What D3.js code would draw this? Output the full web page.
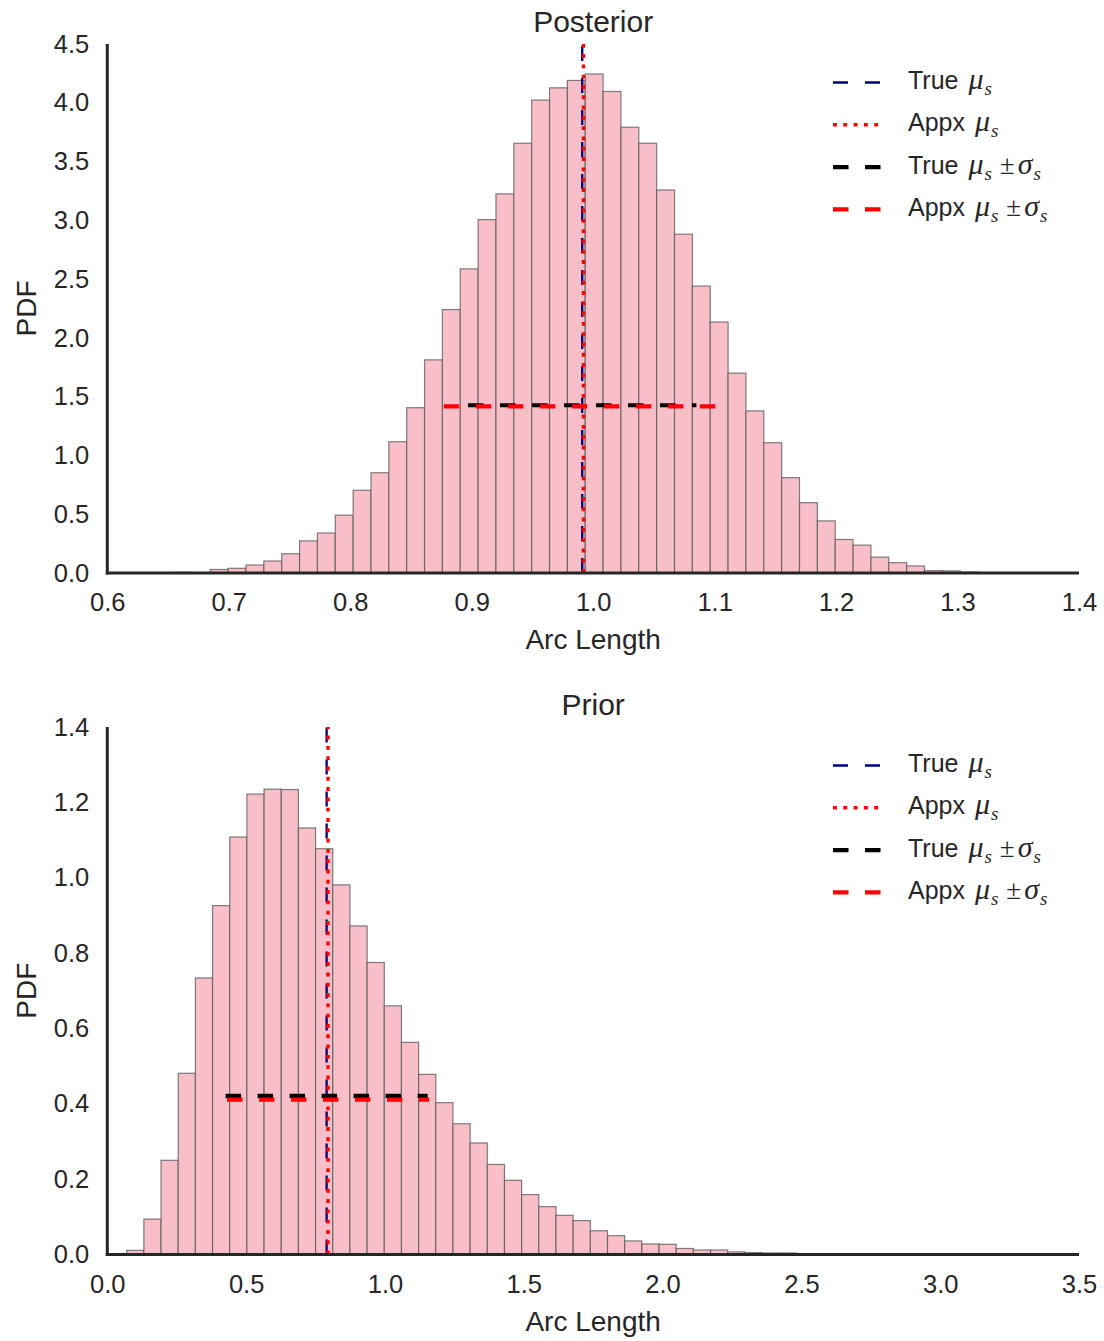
<!DOCTYPE html>
<html>
<head>
<meta charset="utf-8">
<script src="https://cdn.jsdelivr.net/npm/d3@7"></script>
<style>
  html, body { margin: 0; padding: 0; background: #fff; }
  svg { display: block; }
  text { font-family: "Liberation Sans", Arial, sans-serif; fill: #262626; }
</style>
</head>
<body>
<svg id="chart" width="1104" height="1341"></svg>
<script>
// ---------- Posterior: normalised histogram of arc length ----------
const postBinStart = 0.6554;
const postBinWidth = 0.0147;
const postDensity = [
  0.006, 0.002, 0.030, 0.040, 0.068, 0.102, 0.164, 0.273, 0.340, 0.492,
  0.704, 0.853, 1.117, 1.406, 1.813, 2.241, 2.587, 3.006, 3.225, 3.656,
  4.023, 4.127, 4.190, 4.245, 4.096, 3.792, 3.656, 3.258, 2.882, 2.441,
  2.135, 1.700, 1.379, 1.108, 0.811, 0.598, 0.443, 0.285, 0.237, 0.135,
  0.088, 0.060, 0.020, 0.018, 0.008
];
const postTrue = { mu: 0.991, sigma: 0.094, level: 1.427 };
const postAppx = { mu: 0.992, sigma: 0.115, level: 1.418 };
const postXTicks = [0.6, 0.7, 0.8, 0.9, 1.0, 1.1, 1.2, 1.3, 1.4];
const postYTicks = [0.0, 0.5, 1.0, 1.5, 2.0, 2.5, 3.0, 3.5, 4.0, 4.5];

// ---------- Prior: normalised histogram of arc length ----------
const priorBinStart = 0.0699;
const priorBinWidth = 0.06185;
const priorDensity = [
  0.011, 0.094, 0.250, 0.481, 0.734, 0.926, 1.108, 1.222, 1.235, 1.234,
  1.132, 1.077, 0.981, 0.872, 0.775, 0.660, 0.563, 0.478, 0.403, 0.347,
  0.296, 0.239, 0.197, 0.159, 0.127, 0.104, 0.090, 0.063, 0.050, 0.036,
  0.028, 0.027, 0.016, 0.012, 0.012, 0.007, 0.005, 0.004, 0.004
];
const priorTrue = { mu: 0.790, sigma: 0.364, level: 0.421 };
const priorAppx = { mu: 0.795, sigma: 0.364, level: 0.411 };
const priorXTicks = [0.0, 0.5, 1.0, 1.5, 2.0, 2.5, 3.0, 3.5];
const priorYTicks = [0.0, 0.2, 0.4, 0.6, 0.8, 1.0, 1.2, 1.4];

const legendLabels = ["True μ_s", "Appx μ_s", "True μ_s ±σ_s", "Appx μ_s ±σ_s"];

// ---------- styling ----------
const INK = "#262626";
const BAR_FILL = "#f9bfc9";
const BAR_EDGE = "#555555";
const lineStyles = [
  { color: "#000080", width: 2.3, dash: "15,17" },      // true mean
  { color: "#ff0000", width: 3.4, dash: "3.9,6.4" },    // approx mean
  { color: "#000000", width: 4.2, dash: "15.5,16.5" },  // true mean ± sd
  { color: "#ff0000", width: 4.2, dash: "15.5,16.5" }   // approx mean ± sd
];
const SERIF = '"Liberation Serif", "DejaVu Serif", serif';
const TICK_SIZE = 25.5;

const svg = d3.select("#chart");

// Legend label with inline math: Greek letters italic, "_x" as subscript.
function drawLegendLabel(g, str, x, y) {
  const t = g.append("text").attr("x", x).attr("y", y).attr("font-size", 25);
  const re = /([μσ])_(\w)|(±)|([^μσ±]+)/g;
  let m, lowered = 0, afterPm = false;
  const span = () => {
    const s = t.append("tspan");
    if (lowered) { s.attr("dy", -lowered); lowered = 0; }
    return s;
  };
  while ((m = re.exec(str))) {
    if (m[1]) {
      span().attr("font-family", SERIF).attr("font-style", "italic")
        .attr("font-size", 30).attr("dx", afterPm ? 3 : 3).text(m[1]);
      t.append("tspan").attr("font-family", SERIF).attr("font-style", "italic")
        .attr("font-size", 19).attr("dy", 6).attr("dx", 1).text(m[2]);
      lowered = 6;
      afterPm = false;
    } else if (m[3]) {
      span().attr("font-family", SERIF).attr("font-size", 27)
        .attr("dx", 1).text("±");
      afterPm = true;
    } else {
      span().text(m[4]);
    }
  }
}

function drawPanel(cfg) {
  const { left, right, top, bottom } = cfg.box;
  const x = d3.scaleLinear().domain(cfg.xDomain).range([left, right]);
  const y = d3.scaleLinear().domain(cfg.yDomain).range([bottom, top]);
  const g = svg.append("g");

  // histogram bars
  g.append("g").selectAll("rect")
    .data(cfg.density)
    .join("rect")
    .attr("x", (d, i) => x(cfg.binStart + i * cfg.binWidth))
    .attr("width", (d, i) => x(cfg.binStart + (i + 1) * cfg.binWidth) - x(cfg.binStart + i * cfg.binWidth))
    .attr("y", d => y(d))
    .attr("height", d => y(0) - y(d))
    .attr("fill", BAR_FILL)
    .attr("stroke", BAR_EDGE)
    .attr("stroke-opacity", 0.75)
    .attr("stroke-width", 1.2);

  // vertical mean lines, drawn upward from the baseline
  [cfg.trueStats.mu, cfg.appxStats.mu].forEach((mu, k) => {
    const s = lineStyles[k];
    g.append("line")
      .attr("x1", x(mu)).attr("x2", x(mu))
      .attr("y1", y(cfg.yDomain[0])).attr("y2", y(cfg.yDomain[1]))
      .attr("stroke", s.color).attr("stroke-width", s.width)
      .attr("stroke-dasharray", s.dash);
  });

  // horizontal mean ± sd lines
  [cfg.trueStats, cfg.appxStats].forEach((st, k) => {
    const s = lineStyles[k + 2];
    g.append("line")
      .attr("x1", x(st.mu - st.sigma)).attr("x2", x(st.mu + st.sigma))
      .attr("y1", y(st.level)).attr("y2", y(st.level))
      .attr("stroke", s.color).attr("stroke-width", s.width)
      .attr("stroke-dasharray", s.dash);
  });

  // axes (labels only, spines drawn separately)
  const gx = g.append("g").attr("transform", `translate(0,${bottom})`)
    .call(d3.axisBottom(x).tickValues(cfg.xTicks).tickFormat(d3.format(".1f"))
      .tickSize(0).tickPadding(20));
  gx.attr("font-size", TICK_SIZE).attr("font-family", null);
  gx.select(".domain").remove();

  const gy = g.append("g").attr("transform", `translate(${left},0)`)
    .call(d3.axisLeft(y).tickValues(cfg.yTicks).tickFormat(d3.format(".1f"))
      .tickSize(0).tickPadding(18));
  gy.attr("font-size", TICK_SIZE).attr("font-family", null);
  gy.select(".domain").remove();

  // spines
  g.append("line").attr("x1", left).attr("x2", left)
    .attr("y1", top).attr("y2", bottom + 1.5)
    .attr("stroke", INK).attr("stroke-width", 3);
  g.append("line").attr("x1", left - 1.5).attr("x2", right)
    .attr("y1", bottom).attr("y2", bottom)
    .attr("stroke", INK).attr("stroke-width", 3);

  // titles
  g.append("text").attr("x", (left + right) / 2).attr("y", top - 12)
    .attr("text-anchor", "middle").attr("font-size", 30).text(cfg.title);
  g.append("text").attr("x", (left + right) / 2).attr("y", bottom + 76)
    .attr("text-anchor", "middle").attr("font-size", 28).text("Arc Length");
  g.append("text")
    .attr("transform", `translate(36,${(top + bottom) / 2}) rotate(-90)`)
    .attr("text-anchor", "middle").attr("font-size", 28).text("PDF");

  // legend
  const lg = g.append("g");
  legendLabels.forEach((lab, i) => {
    const ly = top + 38.5 + i * 42.3;
    const s = lineStyles[i];
    lg.append("line").attr("x1", 833).attr("x2", 881)
      .attr("y1", ly).attr("y2", ly)
      .attr("stroke", s.color).attr("stroke-width", s.width)
      .attr("stroke-dasharray", s.dash);
    drawLegendLabel(lg, lab, 908, ly + 6.5);
  });
}

drawPanel({
  title: "Posterior",
  box: { left: 107.3, right: 1079, top: 44, bottom: 573 },
  xDomain: [0.6, 1.4], yDomain: [0, 4.5],
  xTicks: postXTicks, yTicks: postYTicks,
  binStart: postBinStart, binWidth: postBinWidth, density: postDensity,
  trueStats: postTrue, appxStats: postAppx
});

drawPanel({
  title: "Prior",
  box: { left: 107.3, right: 1079, top: 727, bottom: 1254.5 },
  xDomain: [0, 3.5], yDomain: [0, 1.4],
  xTicks: priorXTicks, yTicks: priorYTicks,
  binStart: priorBinStart, binWidth: priorBinWidth, density: priorDensity,
  trueStats: priorTrue, appxStats: priorAppx
});
</script>
</body>
</html>
